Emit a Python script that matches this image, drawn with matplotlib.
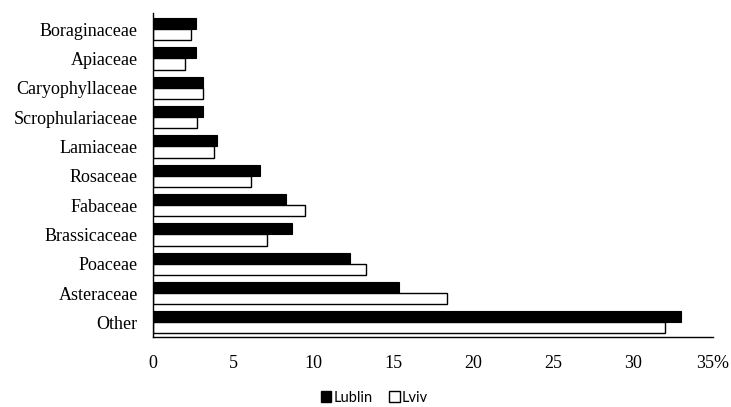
import matplotlib
matplotlib.use("Agg")
import matplotlib.pyplot as plt
import numpy as np
from matplotlib.patches import Patch

categories = ["Other", "Asteraceae", "Poaceae", "Brassicaceae", "Fabaceae", "Rosaceae",
              "Lamiaceae", "Scrophulariaceae", "Caryophyllaceae", "Apiaceae", "Boraginaceae"]
lublin = [33.0, 15.4, 12.3, 8.7, 8.3, 6.7, 4.0, 3.15, 3.15, 2.7, 2.7]
lviv = [32.0, 18.35, 13.3, 7.15, 9.5, 6.1, 3.8, 2.75, 3.1, 2.0, 2.4]
xticks = [0, 5, 10, 15, 20, 25, 30, 35]
xticklabels = ["0", "5", "10", "15", "20", "25", "30", "35%"]

fig = plt.figure(figsize=(7.31, 4.07), dpi=100)
ax = fig.add_axes([0.2093, 0.172, 0.7661, 0.796])

y = np.arange(len(categories))
h = 0.38
ax.barh(y + h / 2, lublin, height=h, color="black", edgecolor="black", linewidth=0.8, label="Lublin")
ax.barh(y - h / 2, lviv, height=h, color="white", edgecolor="black", linewidth=1.0, label="Lviv")

ax.set_xlim(0, 35)
ax.set_ylim(-0.5, len(categories) - 0.45)
ax.set_yticks(y)
ax.set_yticklabels(categories, family="Liberation Serif", fontsize=13)
ax.set_xticks(xticks)
ax.set_xticklabels(xticklabels, family="Liberation Serif", fontsize=13)
ax.tick_params(axis="both", length=0)
ax.tick_params(axis="x", pad=13)
ax.tick_params(axis="y", pad=11)
for s in ["top", "right"]:
    ax.spines[s].set_visible(False)
ax.spines["left"].set_linewidth(1.0)
ax.spines["bottom"].set_linewidth(1.0)

handles = [Patch(facecolor="black", edgecolor="black", label="Lublin"),
           Patch(facecolor="white", edgecolor="black", label="Lviv")]
fig.legend(handles=handles, loc="lower center", bbox_to_anchor=(0.512, -0.027), ncol=2,
           frameon=False, prop={"family": "Lato", "size": 10.5}, handlelength=0.75,
           handleheight=0.75, handletextpad=0.15, columnspacing=1.1)

fig.savefig("out.png", dpi=100)
